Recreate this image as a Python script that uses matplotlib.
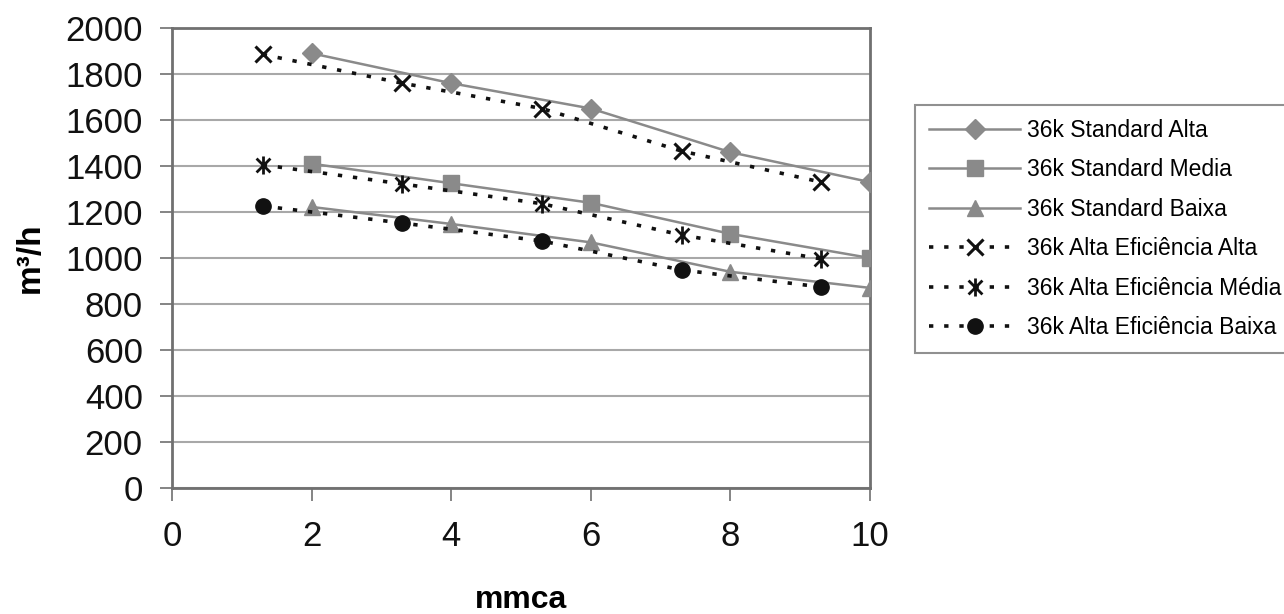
import numpy as np
import matplotlib
matplotlib.use('Agg')
import matplotlib.pyplot as plt
from matplotlib.path import Path

plt.rcParams['font.family'] = ['Liberation Sans', 'DejaVu Sans']

# Data (mmca vs m3/h)
x_std = [2, 4, 6, 8, 10]
x_ae = [1.3, 3.3, 5.3, 7.3, 9.3]

std_alta = [1890, 1760, 1650, 1460, 1330]
std_media = [1410, 1325, 1240, 1105, 1000]
std_baixa = [1222, 1148, 1068, 940, 870]

ae_alta = [1885, 1760, 1650, 1465, 1330]
ae_media = [1405, 1322, 1236, 1100, 996]
ae_baixa = [1226, 1152, 1074, 948, 874]

labels = ["36k Standard Alta", "36k Standard Media", "36k Standard Baixa",
          "36k Alta Eficiência Alta", "36k Alta Eficiência Média",
          "36k Alta Eficiência Baixa"]

GREY = "#8a8a8a"

# asterisk marker: an X with a vertical bar through it
star = Path([(-1, -1), (1, 1), (-1, 1), (1, -1), (0, -1.3), (0, 1.3)],
            [Path.MOVETO, Path.LINETO, Path.MOVETO, Path.LINETO,
             Path.MOVETO, Path.LINETO])

fig = plt.figure(figsize=(12.84, 6.14), dpi=100)
ax = fig.add_axes([172 / 1284, 1 - 488 / 614, 698 / 1284, 460 / 614])

dots = (0, (1.2, 3.0))
ax.plot(x_std, std_alta, color=GREY, lw=1.8, marker='D', ms=10,
        mfc=GREY, mec=GREY, label=labels[0], zorder=3)
ax.plot(x_std, std_media, color=GREY, lw=1.8, marker='s', ms=11,
        mfc=GREY, mec=GREY, label=labels[1], zorder=3)
ax.plot(x_std, std_baixa, color=GREY, lw=1.8, marker='^', ms=11,
        mfc=GREY, mec=GREY, label=labels[2], zorder=3)
ax.plot(x_ae, ae_alta, color='#111111', lw=2.6, ls=dots, marker='x', ms=12,
        mew=2.2, label=labels[3], zorder=4)
ax.plot(x_ae, ae_media, color='#111111', lw=2.6, ls=dots, marker=star, ms=13,
        mew=2.0, label=labels[4], zorder=4)
ax.plot(x_ae, ae_baixa, color='#111111', lw=2.6, ls=dots, marker='o', ms=11,
        label=labels[5], zorder=4)

ax.set_xlim(0, 10)
ax.set_ylim(0, 2000)
ax.set_xticks(np.arange(0, 11, 2))
ax.set_yticks(np.arange(0, 2001, 200))
ax.grid(axis='y', color='#a8a8a8', lw=1.5)
ax.set_axisbelow(True)
for s in ax.spines.values():
    s.set_color('#707070')
    s.set_linewidth(2)
ax.tick_params(axis='both', direction='out', length=9, width=1.2,
               color='#707070', labelsize=25, colors='#111111', pad=14)
ax.tick_params(axis='y', pad=12)

ax.set_xlabel("mmca", fontsize=23, fontweight='bold', va='center')
ax.xaxis.set_label_coords(0.5, (488 - 600) / 460)
ax.set_ylabel("m³/h", fontsize=24, fontweight='bold', labelpad=14)

leg = fig.legend(loc='upper left', bbox_to_anchor=(915 / 1284, 1 - 105 / 614),
                 fontsize=16.5, handlelength=4.0, labelspacing=0.72,
                 handletextpad=0.3, borderaxespad=0, borderpad=0.6,
                 fancybox=False, edgecolor='#909090', framealpha=1)
leg.get_frame().set_linewidth(1.5)

fig.savefig("out.png", dpi=100)
